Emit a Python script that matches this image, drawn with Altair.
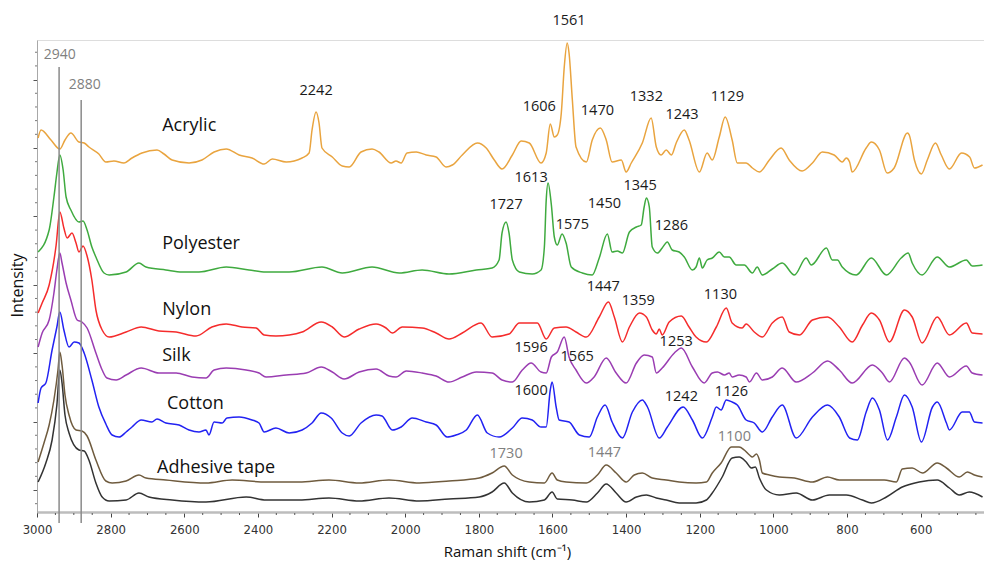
import altair as alt
import pandas as pd

# ---------------------------------------------------------------------------
# Raman spectra of textile fibres (stacked, arbitrary intensity units)
# ---------------------------------------------------------------------------
acrylic_wn = [2997, 2989, 2962, 2938, 2924, 2908, 2886, 2872, 2859, 2832, 2813, 2791, 2764, 2742, 2715,
              2674, 2655, 2633, 2587, 2552, 2519, 2486, 2451, 2416, 2383, 2361, 2323, 2280, 2261, 2253,
              2242, 2234, 2226, 2198, 2171, 2152, 2120, 2090, 2071, 2038, 2025, 2011, 1995, 1970, 1943,
              1916, 1889, 1872, 1845, 1804, 1780, 1758, 1737, 1709, 1685, 1663, 1631, 1617, 1606, 1595,
              1587, 1576, 1568, 1560, 1555, 1546, 1536, 1508, 1492, 1470, 1454, 1438, 1413, 1400, 1386,
              1356, 1332, 1318, 1305, 1291, 1277, 1264, 1242, 1229, 1201, 1180, 1166, 1147, 1131, 1112,
              1098, 1074, 1057, 1038, 1011, 979, 957, 922, 894, 867, 835, 813, 802, 793, 786,
              748, 734, 712, 691, 672, 636, 631, 617, 598, 582, 560, 544, 522, 489, 467, 454, 432]
acrylic_int = [374, 382, 372, 363, 372, 379, 370, 369, 365, 358, 350, 351, 349, 354, 359,
               362, 358, 352, 349, 352, 360, 363, 357, 354, 348, 353, 350, 354, 359, 382,
               400, 389, 364, 355, 346, 345, 360, 363, 360, 349, 351, 349, 359, 360, 357,
               355, 345, 347, 357, 369, 364, 352, 343, 357, 371, 369, 349, 359, 388, 375,
               377, 399, 445, 469, 459, 412, 365, 350, 372, 384, 372, 350, 352, 340, 349,
               369, 394, 365, 357, 362, 357, 369, 382, 372, 340, 359, 352, 375, 395, 372,
               349, 349, 344, 340, 352, 364, 352, 341, 349, 360, 357, 350, 354, 350, 340,
               364, 370, 362, 339, 344, 379, 377, 352, 338, 352, 369, 357, 343, 359, 355, 344, 347]

polyester_wn = [2997, 2967, 2954, 2946, 2938, 2929, 2921, 2908, 2886, 2875,
                2864, 2851, 2840, 2818, 2804, 2758, 2723, 2704, 2650, 2606,
                2560, 2486, 2424, 2378, 2315, 2226, 2171, 2090, 2016, 1954,
                1881, 1807, 1764, 1745, 1737, 1726, 1718, 1709, 1690, 1655,
                1631, 1622, 1617, 1612, 1603, 1595, 1587, 1574, 1563, 1549,
                1519, 1492, 1473, 1451, 1438, 1424, 1410, 1391, 1372, 1359,
                1351, 1345, 1337, 1329, 1315, 1302, 1288, 1275, 1256, 1242,
                1220, 1210, 1201, 1193, 1180, 1166, 1147, 1133, 1120, 1101,
                1079, 1057, 1044, 1030, 1003, 976, 943, 911, 897, 856,
                840, 826, 813, 775, 734, 693, 653, 634, 623, 596,
                555, 522, 476, 460, 432]
polyester_int = [260, 282, 315, 339, 357, 342, 315, 302, 290, 291,
                 282, 265, 255, 239, 237, 240, 249, 245, 242, 240,
                 240, 245, 242, 240, 240, 245, 239, 245, 239, 242,
                 238, 242, 244, 252, 279, 290, 279, 252, 240, 238,
                 242, 265, 312, 329, 307, 275, 267, 278, 269, 245,
                 239, 237, 254, 278, 260, 261, 259, 280, 285, 287,
                 305, 314, 305, 265, 259, 264, 270, 262, 260, 255,
                 242, 245, 254, 244, 252, 254, 260, 255, 255, 247,
                 247, 239, 245, 237, 243, 249, 237, 254, 247, 264,
                 252, 252, 245, 237, 254, 237, 254, 259, 249, 237,
                 255, 245, 252, 246, 247]

nylon_wn = [2997, 2986, 2967, 2948, 2938, 2927, 2918, 2905, 2894, 2886,
            2875, 2864, 2851, 2840, 2823, 2804, 2758, 2717, 2669, 2622,
            2568, 2525, 2486, 2443, 2405, 2383, 2351, 2315, 2280, 2228,
            2198, 2166, 2125, 2079, 2052, 2035, 2008, 1954, 1916, 1881,
            1845, 1794, 1764, 1718, 1690, 1641, 1617, 1595, 1563, 1536,
            1508, 1473, 1448, 1432, 1410, 1391, 1364, 1345, 1329, 1318,
            1310, 1302, 1283, 1250, 1229, 1210, 1182, 1155, 1128, 1112,
            1085, 1074, 1052, 1030, 1003, 976, 957, 929, 894, 853,
            821, 786, 758, 734, 712, 685, 644, 623, 596, 555,
            522, 476, 460, 432]
nylon_int = [199, 209, 227, 267, 300, 284, 274, 279, 269, 260,
             266, 256, 232, 202, 182, 175, 180, 185, 181, 180,
             176, 185, 188, 185, 184, 177, 176, 177, 180, 190,
             185, 175, 183, 188, 184, 179, 185, 184, 179, 173,
             179, 189, 175, 178, 189, 189, 173, 184, 185, 180,
             175, 195, 210, 195, 170, 185, 199, 195, 182, 178,
             183, 177, 190, 196, 185, 175, 170, 185, 204, 189,
             184, 188, 180, 175, 189, 195, 180, 177, 192, 195,
             185, 170, 187, 199, 192, 170, 202, 195, 169, 195,
             177, 189, 179, 178]

silk_wn = [2997, 2986, 2967, 2954, 2946, 2938, 2932, 2921, 2908, 2891,
           2878, 2864, 2840, 2823, 2810, 2785, 2758, 2717, 2669, 2622,
           2579, 2541, 2519, 2486, 2432, 2397, 2378, 2323, 2269, 2228,
           2198, 2166, 2125, 2079, 2044, 2025, 1997, 1954, 1916, 1881,
           1845, 1807, 1764, 1737, 1709, 1682, 1658, 1631, 1617, 1603,
           1587, 1568, 1555, 1536, 1508, 1487, 1454, 1427, 1400, 1372,
           1351, 1329, 1318, 1302, 1269, 1250, 1220, 1188, 1166, 1152,
           1133, 1120, 1112, 1093, 1074, 1065, 1046, 1030, 1003, 976,
           938, 894, 853, 821, 786, 731, 704, 685, 644, 631,
           596, 555, 522, 476, 460, 432]
silk_int = [165, 179, 192, 219, 242, 259, 249, 229, 212, 192,
            190, 184, 159, 142, 134, 132, 137, 144, 139, 139,
            135, 134, 142, 144, 142, 139, 135, 137, 139, 145,
            140, 133, 140, 143, 136, 135, 141, 139, 136, 130,
            135, 140, 139, 132, 130, 142, 149, 140, 139, 155,
            160, 175, 155, 142, 129, 135, 154, 139, 129, 149,
            157, 155, 139, 144, 159, 164, 145, 129, 139, 140,
            137, 139, 135, 137, 135, 130, 139, 132, 135, 144,
            130, 139, 151, 142, 129, 147, 139, 130, 154, 150,
            127, 149, 135, 146, 139, 137]

cotton_wn = [2997, 2989, 2976, 2959, 2946, 2938, 2927, 2913, 2899, 2886,
             2872, 2851, 2832, 2813, 2796, 2777, 2758, 2742, 2717, 2688,
             2674, 2650, 2614, 2587, 2560, 2541, 2533, 2519, 2497, 2484,
             2451, 2416, 2397, 2383, 2351, 2315, 2280, 2253, 2228, 2201,
             2171, 2152, 2120, 2079, 2063, 2035, 2011, 1981, 1943, 1916,
             1886, 1862, 1834, 1804, 1777, 1745, 1709, 1682, 1655, 1631,
             1617, 1606, 1601, 1590, 1582, 1555, 1527, 1500, 1478, 1457,
             1438, 1410, 1383, 1356, 1342, 1310, 1288, 1245, 1220, 1193,
             1166, 1155, 1142, 1128, 1112, 1098, 1074, 1052, 1030, 1003,
             976, 938, 894, 853, 821, 793, 772, 748, 731, 712,
             690, 666, 644, 623, 598, 568, 555, 530, 522, 487,
             468, 454, 432]
cotton_int = [109, 124, 129, 162, 185, 200, 182, 165, 170, 169,
              159, 132, 105, 88, 77, 75, 80, 85, 92, 90,
              93, 89, 87, 82, 80, 82, 77, 90, 89, 94,
              95, 92, 89, 80, 84, 79, 82, 89, 99, 94,
              79, 76, 89, 97, 96, 82, 85, 94, 90, 87,
              75, 77, 82, 97, 79, 75, 84, 94, 92, 85,
              85, 122, 130, 105, 92, 90, 77, 75, 95, 107,
              90, 74, 100, 112, 105, 74, 85, 105, 92, 74,
              95, 105, 102, 112, 110, 107, 92, 89, 80, 95,
              107, 74, 95, 107, 95, 74, 72, 100, 114, 102,
              72, 95, 117, 105, 70, 105, 110, 89, 82, 100,
              100, 90, 89]

tape_a_wn = [2997, 2981, 2967, 2954, 2943, 2938, 2932, 2924, 2913, 2894,
             2878, 2864, 2840, 2813, 2796, 2758, 2723, 2704, 2650, 2541,
             2470, 2378, 2288, 2207, 2125, 2044, 1962, 1881, 1799, 1764,
             1731, 1709, 1663, 1622, 1601, 1587, 1563, 1508, 1478, 1454,
             1427, 1400, 1378, 1356, 1329, 1291, 1256, 1210, 1182, 1166,
             1142, 1114, 1093, 1079, 1065, 1057, 1046, 1038, 1030, 1011,
             984, 943, 894, 853, 821, 775, 731, 699, 666, 650,
             623, 595, 555, 530, 495, 473, 454, 432]
tape_a_int = [50, 69, 87, 112, 142, 160, 147, 117, 97, 82,
              81, 76, 52, 31, 29, 31, 37, 34, 32, 29,
              32, 30, 30, 32, 29, 32, 29, 31, 34, 39,
              46, 37, 30, 29, 39, 32, 30, 29, 37, 47,
              39, 30, 37, 39, 34, 32, 30, 29, 30, 39,
              49, 65, 65, 62, 57, 55, 58, 52, 39, 37,
              35, 34, 30, 35, 32, 32, 32, 32, 30, 43,
              44, 39, 49, 44, 35, 40, 37, 35]

tape_b_wn = [2997, 2976, 2959, 2946, 2938, 2932, 2924, 2913, 2886, 2872,
             2859, 2840, 2823, 2804, 2758, 2723, 2696, 2633, 2541, 2432,
             2378, 2288, 2207, 2125, 2044, 1962, 1881, 1799, 1764, 1731,
             1709, 1663, 1622, 1601, 1587, 1546, 1508, 1478, 1454, 1427,
             1400, 1372, 1345, 1318, 1291, 1256, 1210, 1182, 1166, 1139,
             1112, 1093, 1074, 1060, 1049, 1038, 1019, 984, 938, 894,
             848, 802, 758, 734, 693, 650, 604, 555, 522, 495,
             468, 432]
tape_b_int = [30, 49, 72, 107, 142, 129, 97, 79, 62, 61,
              52, 29, 15, 11, 12, 19, 15, 12, 10, 15,
              12, 12, 14, 11, 14, 11, 13, 15, 20, 29,
              19, 10, 12, 20, 13, 12, 10, 19, 28, 19,
              10, 15, 17, 14, 12, 9, 9, 12, 19, 35,
              54, 55, 50, 44, 45, 34, 22, 17, 19, 12,
              17, 17, 12, 9, 15, 25, 30, 32, 24, 17,
              20, 15]

series_names = ["Acrylic", "Polyester", "Nylon", "Silk", "Cotton", "Tape 1", "Tape 2"]
series_colors = ["#E9A43F", "#3FAA3F", "#F52C2C", "#9A3DB2", "#2222F2", "#6F5B3E", "#333333"]
series_data = [(acrylic_wn, acrylic_int), (polyester_wn, polyester_int), (nylon_wn, nylon_int),
               (silk_wn, silk_int), (cotton_wn, cotton_int), (tape_a_wn, tape_a_int),
               (tape_b_wn, tape_b_int)]

# Fibre names placed beside the spectra
name_text = ["Acrylic", "Polyester", "Nylon", "Silk", "Cotton", "Adhesive tape"]
name_wn = [2660, 2660, 2660, 2660, 2647, 2674]
name_int = [386, 268, 202, 156, 108, 44]

# Band assignments (black)
band_text = ["2242", "1606", "1561", "1470", "1332", "1243", "1129",
             "1727", "1613", "1575", "1450", "1345", "1286",
             "1447", "1359", "1130",
             "1596", "1565", "1253",
             "1600", "1242", "1126"]
band_wn = [2242, 1636, 1555, 1478, 1345, 1248, 1125,
           1726, 1658, 1546, 1459, 1362, 1277,
           1462, 1367, 1144,
           1658, 1533, 1264,
           1658, 1250, 1114]
band_int = [421, 405, 491, 401, 415, 397, 415,
            307, 334, 287, 308, 326, 286,
            225, 211, 217,
            164, 155, 170,
            121, 115, 120]

# Adhesive-tape bands (grey)
tape_text = ["1730", "1447", "1100"]
tape_wn = [1726, 1459, 1106]
tape_int = [58, 59, 75]

# C-H stretching reference lines
ref_wn = [2940, 2880]
ref_top = [445, 412]
ref_bottom = [-11, -11]
ref_label_wn = [2938, 2870]
ref_label_int = [457, 427]

# Axis ticks
x_major = list(range(3000, 427, -200))
x_minor = [w for w in range(2950, 427, -50) if w % 200 != 0]
y_major = [22 + 68.4 * k for k in range(7)]
y_minor = [22 + 13.68 * k for k in range(-1, 33) if k % 5 != 0]

rows = []
for name, (wn, inten) in zip(series_names, series_data):
    assert len(wn) == len(inten), name
    for i, (w, v) in enumerate(zip(wn, inten)):
        rows.append({"series": name, "wn": w, "intensity": v, "idx": i})
spectra = pd.DataFrame(rows)

X_DOMAIN = [3000, 428]
Y_DOMAIN = [0, 472]
x_scale = alt.Scale(domain=X_DOMAIN, nice=False, zero=False)
y_scale = alt.Scale(domain=Y_DOMAIN, nice=False, zero=False)

LABEL_FONT = "Open Sans"
TICK_FONT = "Liberation Sans Narrow, DejaVu Sans Condensed, Liberation Sans"

lines = alt.Chart(spectra).mark_line(strokeWidth=1.5, clip=False, interpolate="monotone").encode(
    x=alt.X("wn:Q", scale=x_scale,
            axis=alt.Axis(orient="bottom", values=x_major, format="d", grid=False,
                          tickSize=5, tickColor="#444", tickWidth=1,
                          domainColor="#bdbdbd", domainWidth=2.5,
                          labelFont=TICK_FONT, labelFontSize=13, labelColor="#333",
                          labelPadding=6, labelFlush=False,
                          title="Raman shift (cm⁻¹)", titleFont=LABEL_FONT,
                          titleFontSize=15, titleFontWeight="normal", titleColor="#111",
                          titleX=470, titleY=39, titleBaseline="middle")),
    y=alt.Y("intensity:Q", scale=y_scale,
            axis=alt.Axis(orient="left", values=y_major, labels=False, grid=False,
                          tickSize=4, tickColor="#555", domainColor="#a8a8a8", domainWidth=1,
                          title="Intensity", titleFont=LABEL_FONT, titleFontSize=16,
                          titleFontWeight="normal", titleColor="#111",
                          titleX=-20, titleY=245, titleBaseline="middle", titleAngle=270)),
    color=alt.Color("series:N", scale=alt.Scale(domain=series_names, range=series_colors),
                    legend=None),
    order="idx:Q",
    detail="series:N",
)

# Minor tick marks along both axes
x_minor_ticks = alt.Chart(pd.DataFrame({"wn": x_minor})).mark_rule(
    color="#555", strokeWidth=1
).encode(x=alt.X("wn:Q", scale=x_scale), y=alt.value(473), y2=alt.value(475))

y_minor_ticks = alt.Chart(pd.DataFrame({"v": y_minor})).mark_rule(
    color="#777", strokeWidth=1
).encode(y=alt.Y("v:Q", scale=y_scale), x=alt.value(-2), x2=alt.value(0))

refs = alt.Chart(pd.DataFrame({"wn": ref_wn, "top": ref_top, "bottom": ref_bottom})).mark_rule(
    color="#8a8a8a", strokeWidth=1.5
).encode(x=alt.X("wn:Q", scale=x_scale), y=alt.Y("top:Q", scale=y_scale), y2="bottom:Q")

ref_labels = alt.Chart(pd.DataFrame({
    "wn": ref_label_wn, "intensity": ref_label_int, "text": ["2940", "2880"]
})).mark_text(font=LABEL_FONT, fontSize=14, color="#808080", align="center",
              baseline="middle").encode(
    x=alt.X("wn:Q", scale=x_scale), y=alt.Y("intensity:Q", scale=y_scale), text="text:N")

names = alt.Chart(pd.DataFrame({"wn": name_wn, "intensity": name_int, "text": name_text})).mark_text(
    font=LABEL_FONT, fontSize=18, color="#111", align="left", baseline="middle"
).encode(x=alt.X("wn:Q", scale=x_scale), y=alt.Y("intensity:Q", scale=y_scale), text="text:N")

bands = alt.Chart(pd.DataFrame({"wn": band_wn, "intensity": band_int, "text": band_text})).mark_text(
    font=LABEL_FONT, fontSize=14.5, color="#1a1a1a", align="center", baseline="middle"
).encode(x=alt.X("wn:Q", scale=x_scale), y=alt.Y("intensity:Q", scale=y_scale), text="text:N")

tape_bands = alt.Chart(pd.DataFrame({"wn": tape_wn, "intensity": tape_int, "text": tape_text})).mark_text(
    font=LABEL_FONT, fontSize=14.5, color="#808080", align="center", baseline="middle"
).encode(x=alt.X("wn:Q", scale=x_scale), y=alt.Y("intensity:Q", scale=y_scale), text="text:N")

chart = alt.layer(lines, x_minor_ticks, y_minor_ticks, refs, ref_labels, names, bands,
                  tape_bands).properties(
    width=947, height=472,
    autosize=alt.AutoSizeParams(type="none"),
    padding={"left": 37, "top": 40, "right": 0, "bottom": 52},
).configure_view(stroke=None).configure(background="white")

chart.save("out.html", embed_options={"renderer": "svg", "actions": False})
